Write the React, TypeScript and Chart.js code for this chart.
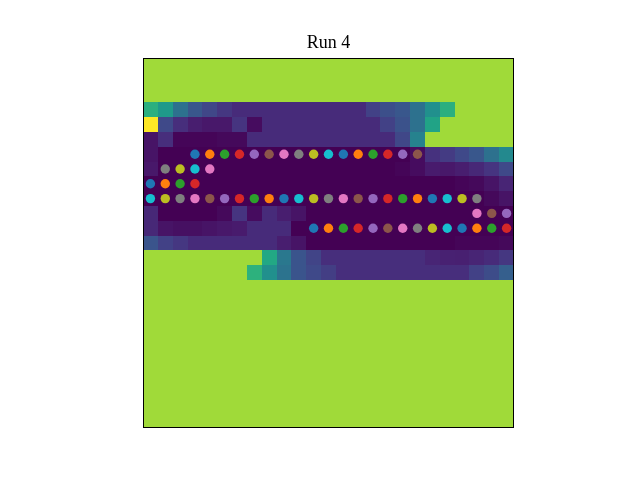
import React, { useEffect, useRef } from "react";
import { Chart, registerables } from "chart.js";

Chart.register(...registerables);

// ---- data ----
const titleText = "Run 4";
const G = 0.86; // background value of the map

// heat map values, row 0 at the top, 25 columns each
const heatRows: number[][] = [
  [G, G, G, G, G, G, G, G, G, G, G, G, G, G, G, G, G, G, G, G, G, G, G, G, G],
  [G, G, G, G, G, G, G, G, G, G, G, G, G, G, G, G, G, G, G, G, G, G, G, G, G],
  [G, G, G, G, G, G, G, G, G, G, G, G, G, G, G, G, G, G, G, G, G, G, G, G, G],
  [0.63, 0.54, 0.37, 0.27, 0.21, 0.16, 0.12, 0.12, 0.12, 0.12, 0.12, 0.12, 0.12, 0.12, 0.12, 0.19, 0.24, 0.27, 0.37, 0.5, 0.63, G, G, G, G],
  [1.0, 0.22, 0.13, 0.08, 0.06, 0.06, 0.15, 0.03, 0.12, 0.12, 0.12, 0.12, 0.12, 0.12, 0.12, 0.12, 0.19, 0.25, 0.37, 0.58, G, G, G, G, G],
  [0.05, 0.13, 0.01, 0.01, 0.01, 0.02, 0.02, 0.12, 0.12, 0.12, 0.12, 0.12, 0.12, 0.12, 0.12, 0.12, 0.12, 0.21, 0.44, G, G, G, G, G, G],
  [0.05, 0, 0, 0, 0, 0, 0, 0, 0, 0, 0, 0, 0, 0, 0, 0, 0, 0, 0.03, 0.14, 0.17, 0.22, 0.27, 0.37, 0.47],
  [0.06, 0, 0, 0, 0, 0, 0, 0, 0, 0, 0, 0, 0, 0, 0, 0, 0, 0.01, 0.03, 0.07, 0.06, 0.08, 0.11, 0.15, 0.22],
  [0, 0, 0, 0, 0, 0, 0, 0, 0, 0, 0, 0, 0, 0, 0, 0, 0, 0, 0, 0, 0, 0.01, 0.02, 0.05, 0.1],
  [0, 0, 0, 0, 0, 0, 0, 0, 0, 0, 0, 0, 0, 0, 0, 0, 0, 0, 0, 0, 0, 0, 0, 0.02, 0.05],
  [0.11, 0, 0, 0, 0, 0.02, 0.15, 0.03, 0.12, 0.08, 0.05, 0, 0, 0, 0, 0, 0, 0, 0, 0, 0, 0, 0, 0, 0],
  [0.11, 0.05, 0.04, 0.04, 0.05, 0.06, 0.07, 0.12, 0.12, 0.12, 0, 0, 0, 0, 0, 0, 0, 0, 0, 0, 0, 0, 0, 0, 0],
  [0.26, 0.19, 0.16, 0.12, 0.12, 0.12, 0.12, 0.12, 0.12, 0.08, 0.05, 0, 0, 0, 0, 0, 0, 0, 0, 0, 0, 0.01, 0.01, 0.01, 0.02],
  [G, G, G, G, G, G, G, G, 0.6, 0.4, 0.26, 0.2, 0.13, 0.13, 0.13, 0.13, 0.13, 0.13, 0.13, 0.1, 0.09, 0.085, 0.1, 0.12, 0.16],
  [G, G, G, G, G, G, G, 0.64, 0.5, 0.38, 0.26, 0.22, 0.18, 0.13, 0.13, 0.13, 0.13, 0.13, 0.13, 0.13, 0.13, 0.13, 0.19, 0.23, 0.3],
  [G, G, G, G, G, G, G, G, G, G, G, G, G, G, G, G, G, G, G, G, G, G, G, G, G],
  [G, G, G, G, G, G, G, G, G, G, G, G, G, G, G, G, G, G, G, G, G, G, G, G, G],
  [G, G, G, G, G, G, G, G, G, G, G, G, G, G, G, G, G, G, G, G, G, G, G, G, G],
  [G, G, G, G, G, G, G, G, G, G, G, G, G, G, G, G, G, G, G, G, G, G, G, G, G],
  [G, G, G, G, G, G, G, G, G, G, G, G, G, G, G, G, G, G, G, G, G, G, G, G, G],
  [G, G, G, G, G, G, G, G, G, G, G, G, G, G, G, G, G, G, G, G, G, G, G, G, G],
  [G, G, G, G, G, G, G, G, G, G, G, G, G, G, G, G, G, G, G, G, G, G, G, G, G],
  [G, G, G, G, G, G, G, G, G, G, G, G, G, G, G, G, G, G, G, G, G, G, G, G, G],
  [G, G, G, G, G, G, G, G, G, G, G, G, G, G, G, G, G, G, G, G, G, G, G, G, G],
  [G, G, G, G, G, G, G, G, G, G, G, G, G, G, G, G, G, G, G, G, G, G, G, G, G],
];

// path points (cell column / cell row) and their colours
const dotCols = [
  3, 4, 5, 6, 7, 8, 9, 10, 11, 12, 13, 14, 15, 16, 17, 18,
  1, 2, 3, 4,
  0, 1, 2, 3,
  0, 1, 2, 3, 4, 5, 6, 7, 8, 9, 10, 11, 12, 13, 14, 15, 16, 17, 18, 19, 20, 21, 22,
  22, 23, 24,
  11, 12, 13, 14, 15, 16, 17, 18, 19, 20, 21, 22, 23, 24,
];
const dotRows = [
  6, 6, 6, 6, 6, 6, 6, 6, 6, 6, 6, 6, 6, 6, 6, 6,
  7, 7, 7, 7,
  8, 8, 8, 8,
  9, 9, 9, 9, 9, 9, 9, 9, 9, 9, 9, 9, 9, 9, 9, 9, 9, 9, 9, 9, 9, 9, 9,
  10, 10, 10,
  11, 11, 11, 11, 11, 11, 11, 11, 11, 11, 11, 11, 11, 11,
];
const dotColorNames = [
  "blue", "orange", "green", "red", "purple", "brown", "pink", "gray", "olive", "cyan", "blue", "orange", "green", "red", "purple", "brown",
  "gray", "olive", "cyan", "pink",
  "blue", "orange", "green", "red",
  "cyan", "olive", "gray", "pink", "brown", "purple", "red", "green", "orange", "blue", "cyan", "olive", "gray", "pink", "brown", "purple", "red", "green", "orange", "blue", "cyan", "olive", "gray",
  "pink", "brown", "purple",
  "blue", "orange", "green", "red", "purple", "brown", "pink", "gray", "olive", "cyan", "blue", "orange", "green", "red",
];

const tab10: Record<string, string> = {
  blue: "#1f77b4",
  orange: "#ff7f0e",
  green: "#2ca02c",
  red: "#d62728",
  purple: "#9467bd",
  brown: "#8c564b",
  pink: "#e377c2",
  gray: "#7f7f7f",
  olive: "#bcbd22",
  cyan: "#17becf",
};

// viridis colour map stops
const viridisStops: [number, string][] = [
  [0, "#440154"], [1 / 15, "#481a6c"], [2 / 15, "#472f7d"], [3 / 15, "#414487"],
  [4 / 15, "#39568c"], [5 / 15, "#31688e"], [6 / 15, "#2a788e"], [7 / 15, "#23888e"],
  [8 / 15, "#1f988b"], [9 / 15, "#22a884"], [10 / 15, "#35b779"], [11 / 15, "#54c568"],
  [12 / 15, "#7ad151"], [0.86, "#a0da39"], [13 / 15, "#a5db36"], [14 / 15, "#d2e21b"],
  [1, "#fde725"],
];

function hexToRgb(h: string) {
  const n = parseInt(h.slice(1), 16);
  return [(n >> 16) & 255, (n >> 8) & 255, n & 255];
}

function viridis(v: number) {
  const t = Math.max(0, Math.min(1, v));
  for (let i = 1; i < viridisStops.length; i++) {
    const [t1, c1] = viridisStops[i];
    if (t <= t1 + 1e-9) {
      const [t0, c0] = viridisStops[i - 1];
      const f = t1 === t0 ? 0 : (t - t0) / (t1 - t0);
      const a = hexToRgb(c0);
      const b = hexToRgb(c1);
      const r = Math.round(a[0] + (b[0] - a[0]) * f);
      const g = Math.round(a[1] + (b[1] - a[1]) * f);
      const bl = Math.round(a[2] + (b[2] - a[2]) * f);
      return `rgb(${r},${g},${bl})`;
    }
  }
  return viridisStops[viridisStops.length - 1][1];
}

const heatmapPlugin = {
  id: "heatmapCells",
  beforeDatasetsDraw(chart: any) {
    const { ctx, scales } = chart;
    const xs = scales.x;
    const ys = scales.y;
    ctx.save();
    heatRows.forEach((row, r) => {
      row.forEach((v, c) => {
        const x0 = Math.round(xs.getPixelForValue(c));
        const x1 = Math.round(xs.getPixelForValue(c + 1));
        const y0 = Math.round(ys.getPixelForValue(r));
        const y1 = Math.round(ys.getPixelForValue(r + 1));
        ctx.fillStyle = viridis(v);
        ctx.fillRect(Math.min(x0, x1), Math.min(y0, y1), Math.abs(x1 - x0), Math.abs(y1 - y0));
      });
    });
    ctx.restore();
  },
  afterDatasetsDraw(chart: any) {
    const { ctx, chartArea } = chart;
    const l = Math.round(chartArea.left);
    const t = Math.round(chartArea.top);
    const r = Math.round(chartArea.right);
    const b = Math.round(chartArea.bottom);
    ctx.save();
    ctx.strokeStyle = "#000000";
    ctx.lineWidth = 1;
    ctx.strokeRect(l + 0.5, t + 0.5, r - l - 1, b - t - 1);
    ctx.restore();
  },
};

export default function App() {
  const canvasRef = useRef<HTMLCanvasElement | null>(null);

  useEffect(() => {
    if (!canvasRef.current) return;
    const points = dotCols.map((c, i) => ({ x: c + 0.5, y: dotRows[i] + 0.5 }));
    const colors = dotColorNames.map((n) => tab10[n]);
    const chart = new Chart(canvasRef.current, {
      type: "scatter",
      data: {
        datasets: [
          {
            data: points,
            pointBackgroundColor: colors,
            pointBorderColor: colors,
            pointBorderWidth: 0,
            pointRadius: 4.7,
            pointHoverRadius: 4.7,
            showLine: false,
          },
        ],
      },
      options: {
        responsive: false,
        animation: false,
        events: [],
        layout: { padding: { left: 143, right: 126, top: 0, bottom: 52 } },
        scales: {
          x: { type: "linear", min: 0, max: 25, display: false },
          y: { type: "linear", min: 0, max: 25, reverse: true, display: false },
        },
        plugins: {
          legend: { display: false },
          tooltip: { enabled: false },
          title: {
            display: true,
            text: titleText,
            color: "#000000",
            font: { family: "'Liberation Serif', 'Times New Roman', serif", size: 18, weight: "normal" },
            padding: { top: 32, bottom: 4.4 },
          },
        },
      },
      plugins: [heatmapPlugin],
    } as any);
    return () => chart.destroy();
  }, []);

  return (
    <div style={{ position: "fixed", left: 0, top: 0, width: 640, height: 480, background: "#ffffff" }}>
      <canvas ref={canvasRef} width={640} height={480} />
    </div>
  );
}
